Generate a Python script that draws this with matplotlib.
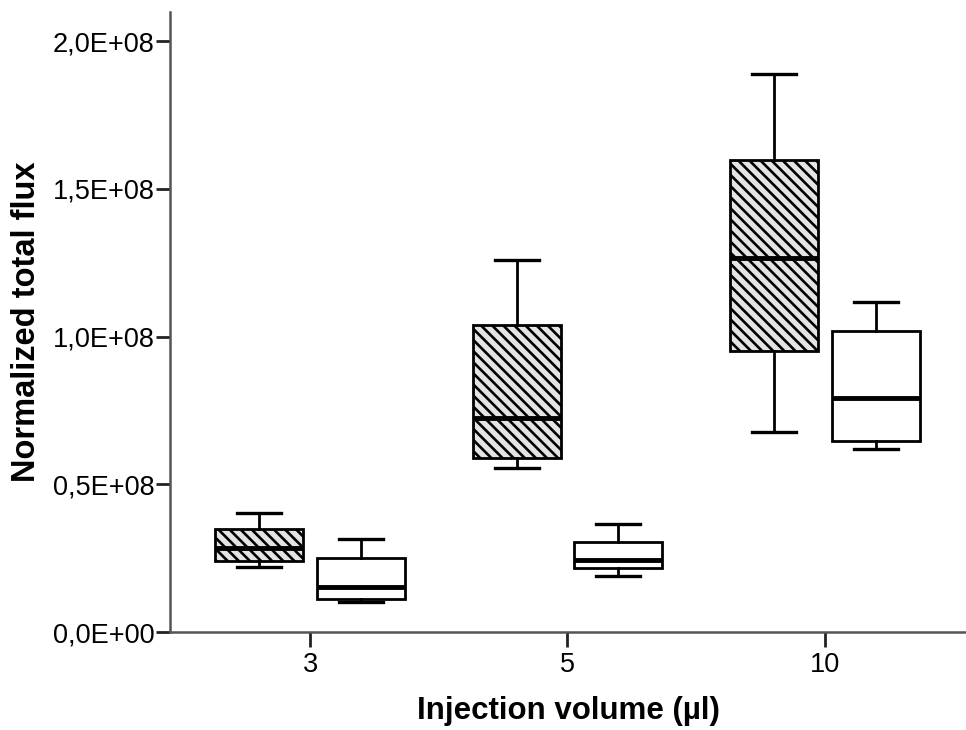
import numpy as np
import matplotlib
matplotlib.use("Agg")
import matplotlib.pyplot as plt
from matplotlib.ticker import FuncFormatter

plt.rcParams['font.family'] = ['Liberation Sans', 'DejaVu Sans']
plt.rcParams['hatch.linewidth'] = 1.9

volumes = ['3', '5', '10']

# box stats (whislo, q1, med, q3, whishi)
hatched_lo = [21.9e6, 55.4e6, 67.7e6]
hatched_q1 = [24.2e6, 59.1e6, 95.3e6]
hatched_med = [28.4e6, 72.4e6, 126.7e6]
hatched_q3 = [34.9e6, 104.1e6, 159.8e6]
hatched_hi = [40.2e6, 126.1e6, 188.8e6]

white_lo = [10.3e6, 19.0e6, 62.1e6]
white_q1 = [11.1e6, 21.8e6, 64.7e6]
white_med = [15.4e6, 24.4e6, 79.2e6]
white_q3 = [25.0e6, 30.6e6, 101.8e6]
white_hi = [31.4e6, 36.6e6, 111.9e6]


def make_stats(lo, q1, med, q3, hi):
    out = []
    for i in range(len(lo)):
        out.append({'whislo': lo[i], 'q1': q1[i], 'med': med[i],
                    'q3': q3[i], 'whishi': hi[i], 'fliers': []})
    return out


def fmt(v, pos):
    if abs(v) < 1:
        return '0,0E+00'
    return ('%.1f' % (v / 1e8)).replace('.', ',') + 'E+08'


fig = plt.figure(figsize=(9.66, 7.3), dpi=100)
ax = fig.add_axes([0.176, 0.134, 0.824, 0.85])

x = np.arange(len(volumes))
w = 0.342
off = 0.198

boxkw = dict(widths=w, capwidths=w / 2, patch_artist=True,
             whiskerprops=dict(color='black', linewidth=2),
             capprops=dict(color='black', linewidth=2.4),
             medianprops=dict(color='black', linewidth=3.5),
             showfliers=False)

b1 = ax.bxp(make_stats(hatched_lo, hatched_q1, hatched_med, hatched_q3, hatched_hi),
            positions=x - off,
            boxprops=dict(facecolor='#e4e4e4', edgecolor='black', linewidth=2, hatch='\\\\\\'),
            **boxkw)
b2 = ax.bxp(make_stats(white_lo, white_q1, white_med, white_q3, white_hi),
            positions=x + off,
            boxprops=dict(facecolor='white', edgecolor='black', linewidth=2),
            **boxkw)

ax.set_xlim(-0.544, 2.548)
ax.set_ylim(0, 2.1e8)
ax.set_xticks(x)
ax.set_xticklabels(volumes)
ax.set_yticks([0, 0.5e8, 1.0e8, 1.5e8, 2.0e8])
ax.yaxis.set_major_formatter(FuncFormatter(fmt))

for s in ['top', 'right']:
    ax.spines[s].set_visible(False)
for s in ['left', 'bottom']:
    ax.spines[s].set_color('#555555')
    ax.spines[s].set_linewidth(1.8)

ax.tick_params(axis='both', direction='out', width=2, color='#222222', labelsize=19.5)
ax.tick_params(axis='y', length=10, pad=1)
ax.tick_params(axis='x', length=11, pad=3)
ax.set_xlabel('Injection volume (µl)', fontsize=22.5, fontweight='bold', labelpad=13)
ax.set_ylabel('Normalized total flux', fontsize=23.5, fontweight='bold', labelpad=8)

fig.savefig('out.png', dpi=100)
